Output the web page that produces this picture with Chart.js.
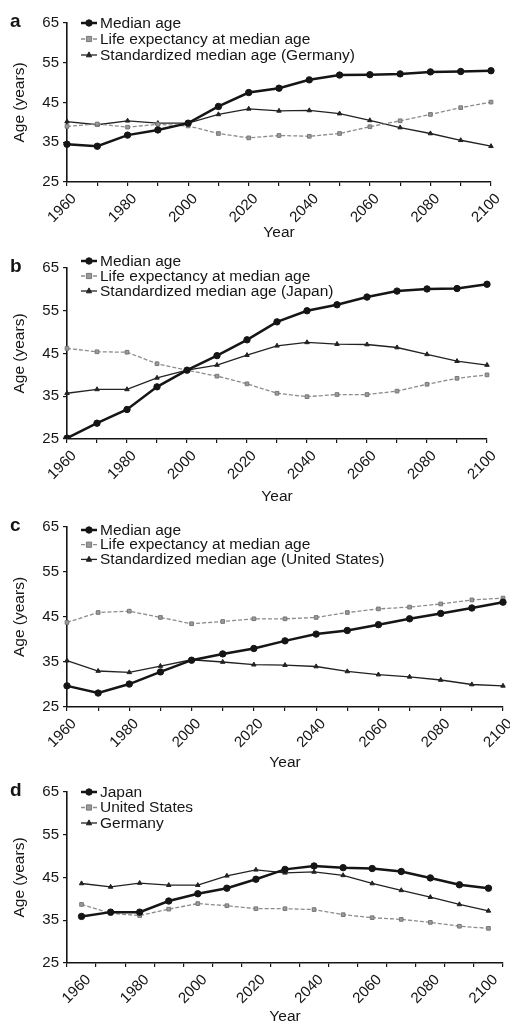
<!DOCTYPE html>
<html>
<head>
<meta charset="utf-8">
<script src="https://cdn.jsdelivr.net/npm/chart.js@4/dist/chart.umd.min.js"></script>
<style>
  html, body { margin: 0; padding: 0; background: #fff; }
  #page { position: relative; width: 510px; height: 1024px; overflow: hidden; }
  .panel { position: absolute; left: 0; width: 510px; }
</style>
</head>
<body>
<div id="page"></div>
<script>
// Shared axis data
const years = ['1960', '1970', '1980', '1990', '2000', '2010', '2020', '2030', '2040', '2050', '2060', '2070', '2080', '2090', '2100'];
const yTicks = [25, 35, 45, 55, 65];

// a: Germany
const medianAgeGermany = [34.5, 34.0, 36.8, 38.1, 39.8, 44.0, 47.5, 48.6, 50.7, 51.9, 52.0, 52.2, 52.7, 52.8, 53.0];
const lifeExpGermany = [39.0, 39.6, 38.8, 39.5, 39.1, 37.2, 36.1, 36.7, 36.5, 37.2, 38.9, 40.4, 42.0, 43.7, 45.1];
const stdAgeGermany = [40.2, 39.4, 40.4, 39.8, 39.8, 42.0, 43.4, 42.9, 43.0, 42.2, 40.5, 38.7, 37.2, 35.5, 34.0];

// b: Japan
const medianAgeJapan = [25.2, 28.7, 31.9, 37.2, 41.1, 44.5, 48.2, 52.4, 55.0, 56.4, 58.2, 59.6, 60.1, 60.2, 61.2];
const lifeExpJapan = [46.2, 45.4, 45.3, 42.6, 41.1, 39.7, 37.9, 35.7, 34.9, 35.4, 35.4, 36.2, 37.8, 39.2, 40.0];
const stdAgeJapan = [35.7, 36.6, 36.6, 39.3, 41.1, 42.3, 44.6, 46.8, 47.6, 47.2, 47.1, 46.4, 44.8, 43.2, 42.3];

// c: United States
const medianAgeUS = [29.7, 28.1, 30.1, 32.8, 35.4, 36.8, 38.0, 39.7, 41.2, 42.0, 43.3, 44.6, 45.8, 47.0, 48.3];
const lifeExpUS = [43.8, 46.0, 46.3, 44.9, 43.5, 44.0, 44.6, 44.6, 44.9, 46.0, 46.8, 47.2, 47.9, 48.8, 49.2];
const stdAgeUS = [35.3, 33.0, 32.7, 34.1, 35.5, 35.0, 34.4, 34.3, 34.0, 32.9, 32.2, 31.7, 31.0, 30.0, 29.7];

// d: standardized median age by country
const stdJapan = [35.9, 36.9, 36.9, 39.5, 41.2, 42.5, 44.6, 46.9, 47.7, 47.3, 47.1, 46.4, 44.9, 43.3, 42.5];
const stdUnitedStates = [38.7, 36.6, 36.1, 37.6, 38.9, 38.4, 37.7, 37.7, 37.5, 36.3, 35.6, 35.2, 34.5, 33.6, 33.1];
const stdGermany = [43.6, 42.8, 43.7, 43.2, 43.2, 45.4, 46.8, 46.1, 46.3, 45.5, 43.6, 42.0, 40.4, 38.7, 37.2];

const legendA = ['Median age', 'Life expectancy at median age', 'Standardized median age (Germany)'];
const legendB = ['Median age', 'Life expectancy at median age', 'Standardized median age (Japan)'];
const legendC = ['Median age', 'Life expectancy at median age', 'Standardized median age (United States)'];
const legendD = ['Japan', 'United States', 'Germany'];

const FONT = '"Liberation Sans", Arial, Helvetica, sans-serif';
const INK = '#151515';

// line styles: bold dots, grey dashed squares, thin triangles
const seriesStyles = [
  { borderColor: INK, borderWidth: 2.5, pointStyle: 'circle', pointRadius: 3.2, pointBackgroundColor: INK, pointBorderColor: INK, borderDash: [] },
  { borderColor: '#8c8c8c', borderWidth: 1.3, pointStyle: 'rect', pointRadius: 2.6, pointBackgroundColor: '#9a9a9a', pointBorderColor: '#777', borderDash: [4, 2] },
  { borderColor: '#222', borderWidth: 1.3, pointStyle: 'triangle', pointRadius: 2.6, pointBackgroundColor: '#222', pointBorderColor: '#222', borderDash: [] }
];

const panels = [
  { letter: 'a', top: 23, bottom: 182, right: 491, yearY: 233, legendY: 23, legendGap: 16, labels: legendA, series: [medianAgeGermany, lifeExpGermany, stdAgeGermany], offset: false },
  { letter: 'b', top: 268, bottom: 439, right: 487, yearY: 497, legendY: 261, legendGap: 15, labels: legendB, series: [medianAgeJapan, lifeExpJapan, stdAgeJapan], offset: false },
  { letter: 'c', top: 527, bottom: 707, right: 503, yearY: 763, legendY: 530, legendGap: 14.7, labels: legendC, series: [medianAgeUS, lifeExpUS, stdAgeUS], offset: false },
  { letter: 'd', top: 792, bottom: 963, right: 503, yearY: 1017, legendY: 792, legendGap: 15.5, labels: legendD, series: [stdJapan, stdUnitedStates, stdGermany], offset: true }
];

const PLOT_LEFT = 67;
const PAD_TOP = 22;
const TITLE_SIZE = 15.5;

function drawMarker(ctx, style, x, y) {
  const r = style.pointRadius;
  ctx.save();
  ctx.fillStyle = style.pointBackgroundColor;
  ctx.strokeStyle = style.pointBorderColor;
  ctx.lineWidth = 1;
  ctx.setLineDash([]);
  ctx.beginPath();
  if (style.pointStyle === 'rect') {
    ctx.rect(x - r, y - r, 2 * r, 2 * r);
  } else if (style.pointStyle === 'triangle') {
    ctx.moveTo(x, y - r * 1.2);
    ctx.lineTo(x + r, y + r * 0.7);
    ctx.lineTo(x - r, y + r * 0.7);
    ctx.closePath();
  } else {
    ctx.arc(x, y, r, 0, Math.PI * 2);
  }
  ctx.fill();
  ctx.stroke();
  ctx.restore();
}

// legend drawn inside the plot, plus the panel letter
const insideLegend = {
  id: 'insideLegend',
  afterDraw(chart, args, opts) {
    const ctx = chart.ctx;
    const yTop = opts.legendY - opts.canvasTop;
    ctx.save();
    ctx.font = TITLE_SIZE + 'px ' + FONT;
    ctx.textBaseline = 'middle';
    ctx.textAlign = 'left';
    chart.data.datasets.forEach((ds, i) => {
      const st = seriesStyles[i];
      const y = yTop + i * opts.legendGap;
      ctx.save();
      ctx.strokeStyle = st.borderColor;
      ctx.lineWidth = st.borderWidth;
      ctx.setLineDash(st.borderDash);
      ctx.beginPath();
      ctx.moveTo(81, y);
      ctx.lineTo(97, y);
      ctx.stroke();
      ctx.restore();
      drawMarker(ctx, st, 89, y);
      ctx.fillStyle = INK;
      ctx.fillText(ds.label, 100, y + 0.5);
    });
    ctx.font = 'bold 19px ' + FONT;
    ctx.textBaseline = 'alphabetic';
    ctx.fillText(opts.letter, 10, opts.top - opts.canvasTop + 4);
    ctx.restore();
  }
};

panels.forEach((p) => {
  const canvasTop = p.top - PAD_TOP;
  const canvasH = p.yearY + 12 - canvasTop;
  const div = document.createElement('div');
  div.className = 'panel';
  div.style.top = canvasTop + 'px';
  div.style.height = canvasH + 'px';
  const cv = document.createElement('canvas');
  div.appendChild(cv);
  document.getElementById('page').appendChild(div);

  const padBottom = 12 - TITLE_SIZE * 1.2 / 2;
  const xAxisHeight = (canvasH - padBottom) - (p.bottom - canvasTop);

  new Chart(cv, {
    type: 'line',
    data: {
      labels: years,
      datasets: p.series.map((vals, i) => ({
        label: p.labels[i],
        data: vals,
        tension: 0,
        fill: false,
        pointBorderWidth: 1,
        ...seriesStyles[i]
      }))
    },
    options: {
      responsive: true,
      maintainAspectRatio: false,
      animation: false,
      layout: { padding: { top: PAD_TOP, left: 0, right: 510 - p.right, bottom: padBottom } },
      plugins: {
        legend: { display: false },
        tooltip: { enabled: false },
        insideLegend: { legendY: p.legendY, legendGap: p.legendGap, canvasTop: canvasTop, letter: p.letter, top: p.top }
      },
      scales: {
        x: {
          type: 'category',
          offset: p.offset,
          grid: { offset: p.offset, drawOnChartArea: false, drawTicks: true, tickLength: 4, color: INK, lineWidth: 1.2 },
          border: { display: true, color: INK, width: 1.6 },
          ticks: {
            autoSkip: false,
            minRotation: 45,
            maxRotation: 45,
            padding: 4,
            labelOffset: 7,
            color: INK,
            font: { family: FONT, size: 15 },
            callback: function (val, idx) { return idx % 2 === 0 ? this.getLabelForValue(val) : ''; }
          },
          title: { display: true, text: 'Year', color: INK, font: { family: FONT, size: TITLE_SIZE }, padding: { top: 0, bottom: 0 } },
          afterFit: (scale) => { scale.height = xAxisHeight; scale.paddingLeft = 0; scale.paddingRight = 0; }
        },
        y: {
          type: 'linear',
          min: 25,
          max: 65,
          afterBuildTicks: (scale) => { scale.ticks = yTicks.map(v => ({ value: v })); },
          grid: { drawOnChartArea: false, drawTicks: true, tickLength: 4, color: INK, lineWidth: 1.2 },
          border: { display: true, color: INK, width: 1.6 },
          ticks: { padding: 4, color: INK, font: { family: FONT, size: 15 } },
          title: { display: true, text: 'Age (years)', color: INK, font: { family: FONT, size: TITLE_SIZE }, padding: { top: 10.7, bottom: 0 } },
          afterFit: (scale) => { scale.width = PLOT_LEFT; scale.paddingTop = 0; scale.paddingBottom = 0; }
        }
      }
    },
    plugins: [insideLegend]
  });
});
</script>
</body>
</html>
